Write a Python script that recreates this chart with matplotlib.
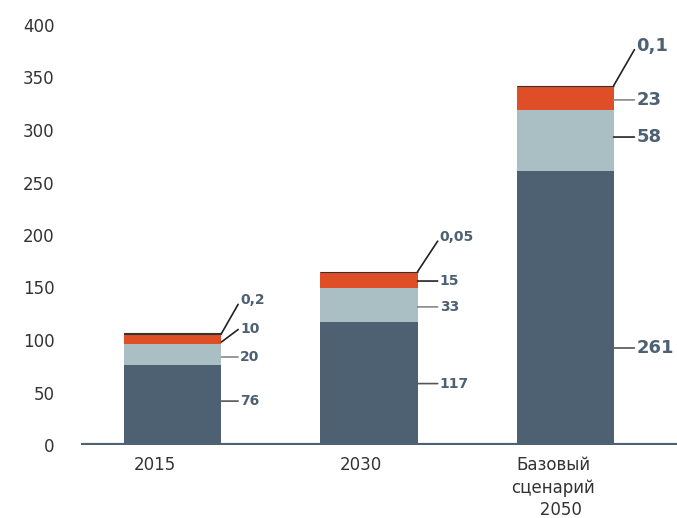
import matplotlib
matplotlib.use("Agg")
import matplotlib.pyplot as plt
import numpy as np

# data
categories = ["2015", "2030", "Базовый\nсценарий\n   2050"]
base = [76, 117, 261]
second = [20, 33, 58]
third = [10, 15, 23]
tiny = [0.2, 0.05, 0.1]
labels = [
    ["76", "20", "10", "0,2"],
    ["117", "33", "15", "0,05"],
    ["261", "58", "23", "0,1"],
]

DARK = "#4d6172"
LIGHT = "#a9bfc4"
ORANGE = "#e04e27"
TOP = "#333333"

fig = plt.figure(figsize=(6.77, 5.18), dpi=100)
ax = fig.add_axes([81 / 677, 73 / 518, 596 / 677, 420 / 518])

x = np.arange(len(categories))
w = 0.495
b1 = np.array(base)
b2 = b1 + np.array(second)
b3 = b2 + np.array(third)

ax.bar(x, base, w, color=DARK, zorder=2)
ax.bar(x, second, w, bottom=b1, color=LIGHT, zorder=2)
ax.bar(x, third, w, bottom=b2, color=ORANGE, zorder=2)
ax.bar(x, tiny, w, bottom=b3, color=TOP, edgecolor=TOP, linewidth=0.8, zorder=3)

ax.axhline(0, color=DARK, linewidth=3, zorder=4)

ax.set_ylim(0, 400)
ax.set_xlim(-0.469, 2.571)
ax.set_yticks(range(0, 401, 50))
# category labels sit a little left of bar centres in the original
label_shift = [-0.092, -0.041, -0.06]
ax.set_xticks(x + np.array(label_shift))
ax.set_xticklabels(categories, linespacing=1.32)
ax.tick_params(axis="both", length=0, labelsize=12, colors="#333333")
ax.tick_params(axis="y", pad=19)
ax.tick_params(axis="x", pad=8)
for s in ax.spines.values():
    s.set_visible(False)

# leader lines: where the line meets the segment (fraction of segment),
# vertical rise of the label (pt), line length (pt), text size
anchor_frac = [
    [0.55, 0.39, 0.21, 1.0],
    [0.50, 0.44, 0.41, 1.0],
    [0.354, 0.557, 0.42, 1.0],
]
rise = [
    [0, 0, 9, 21],
    [0, 0, 0, 22],
    [0, 0, 0, 26],
]
line_len = [12, 14.5, 15]
line_cols = [
    ["#555555", "#888888", "#222222", "#222222"],
    ["#555555", "#888888", "#222222", "#222222"],
    ["#555555", "#222222", "#888888", "#222222"],
]
sizes = [10, 10, 13]

for i in range(len(categories)):
    bottoms = [0, b1[i], b2[i], b3[i]]
    heights = [base[i], second[i], third[i], tiny[i]]
    for j in range(4):
        yy = bottoms[j] + heights[j] * anchor_frac[i][j]
        L = line_len[i]
        dy = rise[i][j]
        ax.annotate("", xy=(x[i] + w / 2, yy), xytext=(L, dy),
                    textcoords="offset points",
                    arrowprops=dict(arrowstyle="-", color=line_cols[i][j],
                                    lw=1.2, shrinkA=0, shrinkB=0))
        ax.annotate(labels[i][j], xy=(x[i] + w / 2, yy),
                    xytext=(L + 1.5, dy + (3 if j == 3 else 0)),
                    textcoords="offset points",
                    ha="left", va="center", fontsize=sizes[i],
                    fontweight="bold", color=DARK)

fig.savefig("out.png", dpi=100)
